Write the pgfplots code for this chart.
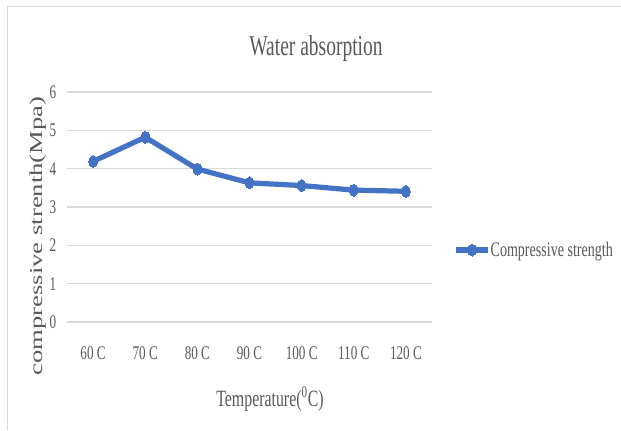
\documentclass[border=0pt]{standalone}
\usepackage{fontspec}
\setmainfont{Liberation Serif}[FakeStretch=0.68]
\newfontfamily\plainserif{Liberation Serif}
\usepackage{pgfplots}
\pgfplotsset{compat=1.18}
\definecolor{lineblue}{HTML}{4472C4}
\definecolor{gridgray}{HTML}{D9D9D9}
\definecolor{textgray}{HTML}{595959}
\begin{document}
\begin{tikzpicture}
\draw[gridgray, line width=1.1pt] (5.625pt,0pt) -- (5.625pt,317.625pt) -- (465.75pt,317.625pt);
\begin{axis}[
  at={(50.25pt,81pt)}, anchor=south west,
  scale only axis,
  width=273.75pt, height=172.5pt,
  xmin=-0.5, xmax=6.5, ymin=0, ymax=6,
  xtick={0,1,2,3,4,5,6},
  xticklabels={60 C,70 C,80 C,90 C,100 C,110 C,120 C},
  ytick={0,1,2,3,4,5,6},
  ymajorgrids,
  grid style={gridgray, line width=1.1pt},
  axis line style={draw=none},
  tick style={draw=none},
  /pgf/number format/assume math mode=true,
  ticklabel style={font=\fontsize{14.5}{16}\selectfont, text=textgray},
  xticklabel style={anchor=base, yshift=-27.75pt, inner sep=0pt},
  yticklabel style={anchor=center, xshift=-10.5pt, inner sep=0pt},
  clip=false,
  legend style={draw=none, fill=none, at={(1.058,0.313)}, anchor=west,
    inner sep=0pt, nodes={inner sep=0pt, text=textgray, font=\fontsize{15.5}{18}\selectfont}},
  legend cell align=left,
  legend image code/.code={%
    \draw[mark repeat=2,mark phase=2,#1] plot coordinates {(0pt,0pt) (12pt,0pt) (24pt,0pt)};},
]
\addplot[lineblue, line width=3.9pt, mark=*, mark size=4.5pt,
  mark options={xscale=0.7, line width=0pt, fill=lineblue}]
  coordinates {(0,4.19) (1,4.82) (2,3.99) (3,3.63) (4,3.56) (5,3.44) (6,3.41)};
\addlegendentry{Compressive strength}
\end{axis}
\node[anchor=base, text=textgray, font=\fontsize{21.5}{24}\selectfont] at (237pt,281.25pt) {Water absorption};
\node[anchor=base, text=textgray, font=\fontsize{17.5}{20}\selectfont] at (202.5pt,18pt) {Temperature(\textsuperscript{0}C)};
\node[rotate=90, text=textgray] at (28.5pt,145.5pt) {\scalebox{1}[0.68]{\plainserif\fontsize{20}{24}\selectfont compressive strenth(Mpa)}};
\pgfresetboundingbox
\path[use as bounding box] (0pt,0pt) rectangle (465.75pt,322.5pt);
\end{tikzpicture}
\end{document}
